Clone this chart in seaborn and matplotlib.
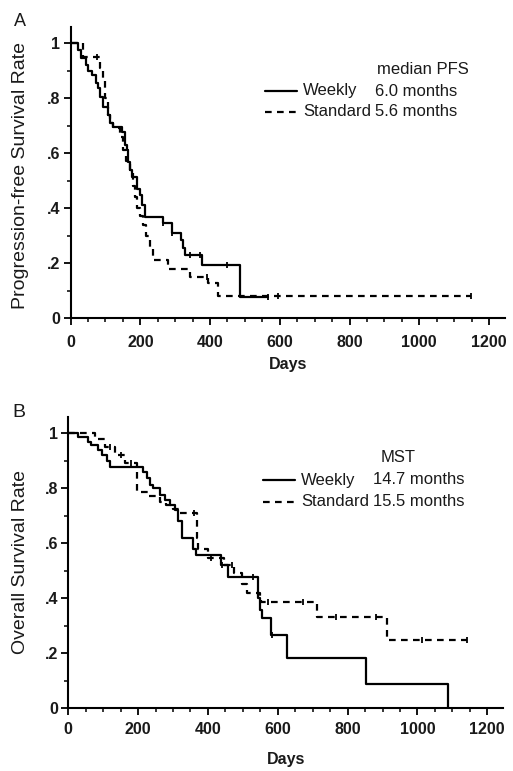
import numpy as np
import pandas as pd
import matplotlib
matplotlib.use("Agg")
import matplotlib.pyplot as plt
from matplotlib.lines import Line2D
import seaborn as sns

# ---- Panel A: progression-free survival (step curves) ----
pfs_weekly_days = [0, 22, 30, 43, 51, 60, 72, 80, 84, 94, 108, 113, 123, 147, 156, 161,
                   166, 170, 175, 190, 199, 204, 213, 266, 290, 317, 322, 328, 376, 486, 567]
pfs_weekly_surv = [1.0, .975, .947, .92, .90, .884, .853, .835, .805, .768, .738, .708, .696,
                   .677, .63, .61, .568, .538, .514, .47, .447, .41, .368, .344, .31, .284,
                   .253, .229, .193, .075, .075]
pfs_weekly_cens = [266, 290, 343, 371, 448, 567]

pfs_std_days = [0, 36, 84, 93, 100, 107, 113, 123, 142, 151, 160, 170, 180, 186, 190, 200,
                208, 217, 228, 237, 280, 342, 395, 424, 1148]
pfs_std_surv = [1.0, .95, .91, .87, .80, .74, .71, .69, .66, .61, .57, .54, .48, .44, .40,
                .37, .34, .30, .25, .21, .18, .15, .126, .08, .08]
pfs_std_cens = [75, 392, 596, 1148]

# ---- Panel B: overall survival ----
os_weekly_days = [0, 29, 57, 65, 86, 96, 110, 120, 215, 225, 234, 244, 263, 277, 291, 306,
                  315, 325, 357, 367, 438, 457, 544, 548, 556, 580, 627, 852, 1088]
os_weekly_surv = [1.0, .985, .968, .956, .938, .92, .90, .877, .86, .835, .81, .80, .775,
                  .756, .738, .72, .68, .62, .58, .556, .52, .477, .40, .356, .326, .265,
                  .183, .086, 0.0]
os_weekly_cens = [440, 530, 583]

os_std_days = [0, 76, 105, 134, 162, 196, 228, 262, 280, 300, 316, 368, 372, 400, 445, 475,
               497, 511, 549, 552, 712, 914, 1143]
os_std_surv = [1.0, .98, .95, .92, .89, .785, .77, .75, .74, .725, .71, .62, .58, .545, .52,
               .49, .45, .42, .40, .387, .33, .247, .247]
os_std_cens = [120, 150, 180, 360, 410, 470, 571, 671, 767, 881, 1014, 1143]

arms = ["Weekly", "Standard"]
x_ticks = [0, 200, 400, 600, 800, 1000, 1200]
y_ticks = [0, .2, .4, .6, .8, 1]
y_tick_labels = ["0", ".2", ".4", ".6", ".8", "1"]

sns.set_theme(style="ticks")
plt.rcParams['font.family'] = ['Liberation Sans', 'DejaVu Sans']
plt.rcParams['axes.linewidth'] = 1.5

W, H = 513, 771
fig = plt.figure(figsize=(W / 100, H / 100), dpi=100)
INK = "#1a1a1a"


def fx(px):
    return px / W


def fy(py):
    return 1 - py / H


def step_at(days, surv, t):
    idx = np.searchsorted(days, t, side="right") - 1
    return np.asarray(surv)[idx]


def km_panel(ax, wd, ws, wc, sd, ss, sc, ylabel, tickpad):
    df = pd.concat([
        pd.DataFrame({"Days": wd, "Survival": ws, "Arm": "Weekly"}),
        pd.DataFrame({"Days": sd, "Survival": ss, "Arm": "Standard"}),
    ])
    sns.lineplot(data=df, x="Days", y="Survival", hue="Arm", style="Arm",
                 hue_order=arms, style_order=arms,
                 palette=["black", "black"], dashes={"Weekly": "", "Standard": (3, 2.4)},
                 drawstyle="steps-post", estimator=None, sort=False,
                 linewidth=1.6, legend=False, ax=ax)
    # censor marks
    ax.plot(wc, step_at(wd, ws, wc), ls="none", marker="|", ms=5, mew=1.3, color="black")
    ax.plot(sc, step_at(sd, ss, sc), ls="none", marker="|", ms=5, mew=1.3, color="black")

    ax.set_xlim(0, 1246)
    ax.set_ylim(0, 1.06)
    ax.set_xticks(x_ticks)
    ax.set_xticks(np.arange(0, 1250, 50), minor=True)
    ax.set_yticks(y_ticks, labels=y_tick_labels)
    ax.set_yticks(np.arange(0, 1.05, 0.1), minor=True)
    ax.tick_params(axis="both", which="major", length=5, width=1.3, color="black",
                   labelsize=11.5, labelcolor=INK)
    ax.tick_params(axis="both", which="minor", length=3, width=1.1, color="black")
    ax.tick_params(axis="x", which="major", pad=tickpad)
    ax.tick_params(axis="y", which="major", pad=2.5)
    for lab in ax.get_xticklabels() + ax.get_yticklabels():
        lab.set_fontweight("bold")
    for s in ["top", "right"]:
        ax.spines[s].set_visible(False)
    for s in ["left", "bottom"]:
        ax.spines[s].set_color("black")
    ax.set_xlabel("Days", fontsize=11.5, fontweight="bold", color=INK)
    ax.set_ylabel(ylabel, fontsize=14, color=INK)
    ax.set_facecolor("white")


# Panel A
axA = fig.add_axes([fx(70.6), fy(318), fx(505 - 70.6), (318 - 26.5) / H])
km_panel(axA, pfs_weekly_days, pfs_weekly_surv, pfs_weekly_cens,
         pfs_std_days, pfs_std_surv, pfs_std_cens,
         "Progression-free Survival Rate", 7)
axA.xaxis.set_label_coords(0.5, -(357 - 318) / 291.5)
axA.yaxis.set_label_coords((29 - 70.6) / 434.4, 0.49)

# Panel B
axB = fig.add_axes([fx(68.3), fy(708), fx(435), (708 - 416.5) / H])
km_panel(axB, os_weekly_days, os_weekly_surv, os_weekly_cens,
         os_std_days, os_std_surv, os_std_cens,
         "Overall Survival Rate", 5)
axB.xaxis.set_label_coords(0.5, -(752 - 708) / 291.5)
axB.yaxis.set_label_coords((29 - 68.3) / 435, 0.5)

# panel letters
fig.text(fx(14), fy(25.5), "A", fontsize=13, color=INK, va="baseline")
fig.text(fx(12), fy(417), "B", fontsize=14, color=INK, va="baseline")


# legends drawn as text blocks
def legend_block(title, title_x, title_y, rows, line_x0, line_x1, text_x, val_x):
    fig.text(fx(title_x), fy(title_y + 4.5), title, fontsize=12, color=INK,
             ha="center", va="baseline")
    for (arm, val, ry), dash in zip(rows, ["-", (0, (3, 2.4))]):
        fig.add_artist(Line2D([fx(line_x0), fx(line_x1)], [fy(ry), fy(ry)],
                              transform=fig.transFigure, color="black",
                              linewidth=1.6, linestyle=dash))
        fig.text(fx(text_x), fy(ry + 4.5), arm, fontsize=12, color=INK, va="baseline")
        fig.text(fx(val_x), fy(ry + 4.5), val, fontsize=12, color=INK, va="baseline")


legend_block("median PFS", 423, 69,
             [("Weekly", "6.0 months", 91), ("Standard", "5.6 months", 112)],
             265, 297, 303, 375)
legend_block("MST", 398, 458,
             [("Weekly", "14.7 months", 480), ("Standard", "15.5 months", 502)],
             263, 295, 301, 373)

fig.savefig("out.png", dpi=100, facecolor="white")
